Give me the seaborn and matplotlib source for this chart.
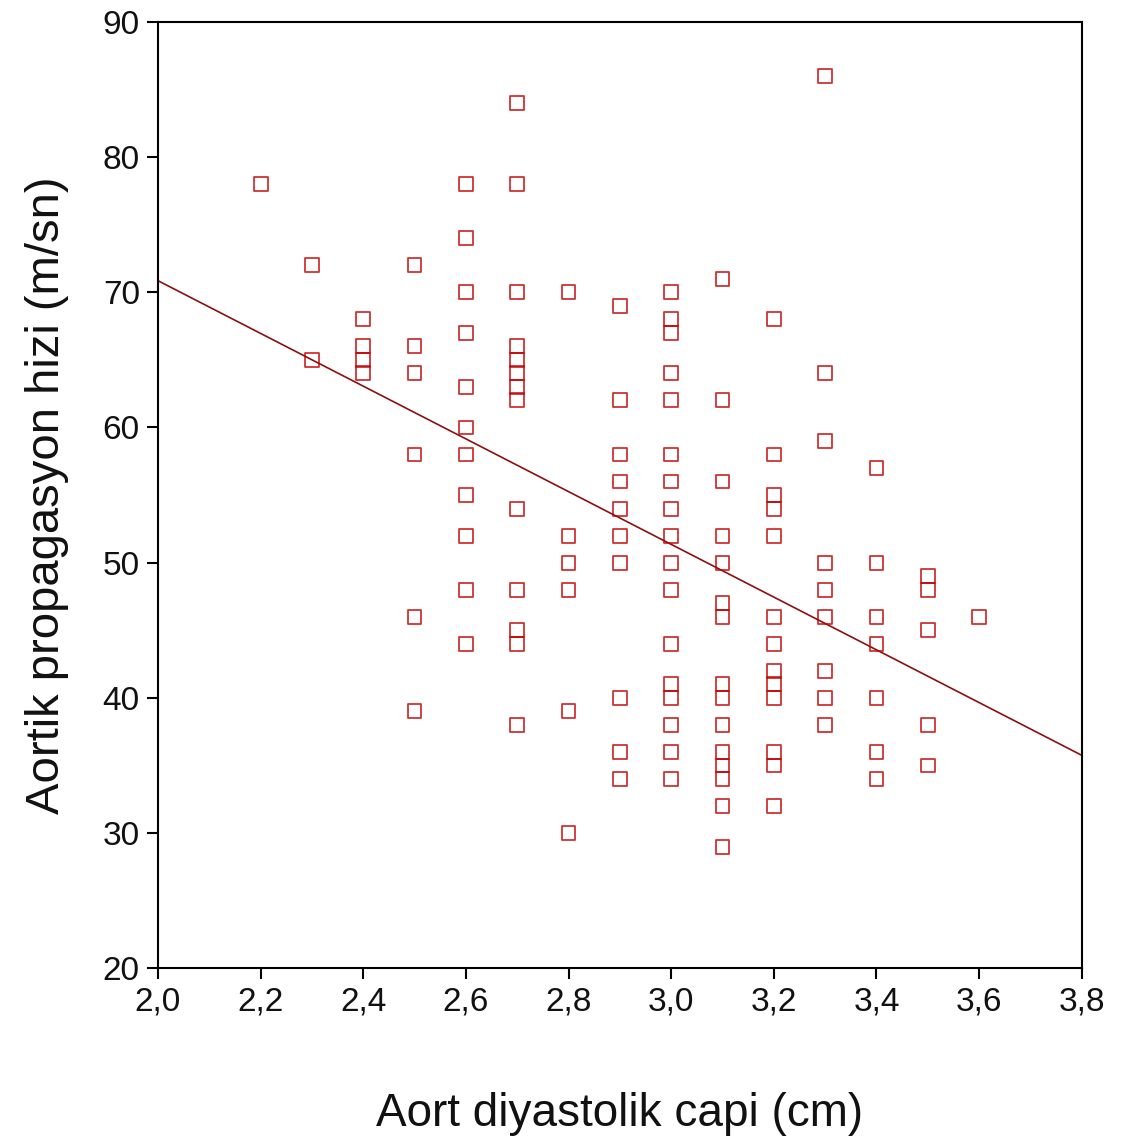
import matplotlib
matplotlib.use("Agg")
import matplotlib.pyplot as plt
import seaborn as sns
import pandas as pd

# Aortic diastolic diameter (cm) groups and the propagation velocities (m/sn) recorded in each
diam_22 = [78]
diam_23 = [72, 65]
diam_24 = [68, 66, 65, 64]
diam_25 = [72, 66, 64, 58, 46, 39]
diam_26 = [78, 74, 70, 67, 63, 60, 58, 55, 52, 48, 44]
diam_27 = [84, 78, 70, 66, 65, 64, 63, 62, 54, 48, 45, 44, 38]
diam_28 = [70, 52, 50, 48, 39, 30]
diam_29 = [69, 62, 58, 56, 54, 52, 50, 40, 36, 34]
diam_30 = [70, 68, 67, 64, 62, 58, 56, 54, 52, 50, 48, 44, 41, 40, 38, 36, 34]
diam_31 = [71, 62, 56, 52, 50, 47, 46, 41, 40, 38, 36, 35, 34, 32, 29]
diam_32 = [68, 58, 55, 54, 52, 46, 44, 42, 41, 40, 36, 35, 32]
diam_33 = [86, 64, 59, 50, 48, 46, 42, 40, 38]
diam_34 = [57, 50, 46, 44, 40, 36, 34]
diam_35 = [49, 48, 45, 38, 35]
diam_36 = [46]

diameters = [2.2, 2.3, 2.4, 2.5, 2.6, 2.7, 2.8, 2.9, 3.0, 3.1, 3.2, 3.3, 3.4, 3.5, 3.6]
velocity_groups = [diam_22, diam_23, diam_24, diam_25, diam_26, diam_27, diam_28,
                   diam_29, diam_30, diam_31, diam_32, diam_33, diam_34, diam_35, diam_36]

x_ticks = [2.0, 2.2, 2.4, 2.6, 2.8, 3.0, 3.2, 3.4, 3.6, 3.8]
x_tick_labels = ["2,0", "2,2", "2,4", "2,6", "2,8", "3,0", "3,2", "3,4", "3,6", "3,8"]
y_ticks = [20, 30, 40, 50, 60, 70, 80, 90]

rows = [(d, v) for d, vals in zip(diameters, velocity_groups) for v in vals]
df = pd.DataFrame(rows, columns=["diam", "velocity"])

sns.set_style("white")
plt.rcParams["font.family"] = ["Liberation Sans", "DejaVu Sans"]

fig = plt.figure(figsize=(11.28, 11.46), dpi=100)
ax = fig.add_axes([0.140, 0.155, 0.819, 0.826])
ax.set_xlim(2.0, 3.8)
ax.set_ylim(20, 90)

point_red = "#c00000"
line_red = "#8b1010"

sns.regplot(data=df, x="diam", y="velocity", ax=ax, ci=None, truncate=False,
            marker="s",
            scatter_kws=dict(facecolors="none", edgecolors=point_red, s=100,
                             linewidths=1.3, zorder=3),
            line_kws=dict(color=line_red, lw=1.2, zorder=2))

ax.set_xlim(2.0, 3.8)
ax.set_ylim(20, 90)
ax.set_xticks(x_ticks)
ax.set_xticklabels(x_tick_labels)
ax.set_yticks(y_ticks)

ax.tick_params(axis="both", direction="out", length=8, width=1.5,
               labelsize=24, color="black", labelcolor="#111111", pad=5,
               bottom=True, left=True)

for side in ["left", "right", "top", "bottom"]:
    ax.spines[side].set_visible(True)
    ax.spines[side].set_color("black")
    ax.spines[side].set_linewidth(1.5)

ax.set_xlabel("Aort diyastolik capi (cm)", fontsize=33, labelpad=54, color="#111111")
ax.set_ylabel("Aortik propagasyon hizi (m/sn)", fontsize=34, labelpad=24, color="#111111")

fig.savefig("out.png", dpi=100, facecolor="white")
